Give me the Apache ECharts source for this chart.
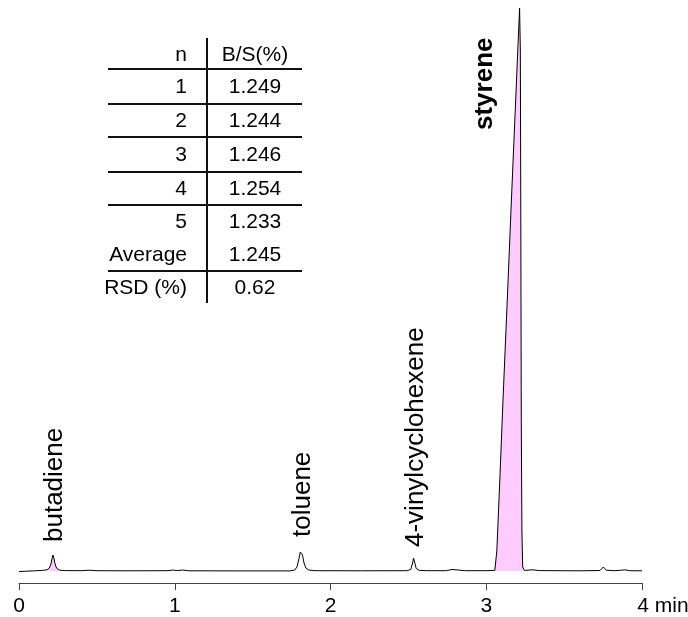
<!DOCTYPE html>
<html><head><meta charset="utf-8">
<script src="https://cdn.jsdelivr.net/npm/echarts@6/dist/echarts.min.js"></script>
<style>html,body{margin:0;padding:0;background:#fff}#c{width:688px;height:617px}</style>
</head><body><div id="c"></div>
<script>
// ---- data ----
const xTickLabels = ['0', '1', '2', '3', '4 min'];
const time = [0.00,0.05,0.10,0.15,0.18,0.195,0.205,0.212,0.218,0.224,0.230,0.238,0.248,0.262,0.30,0.40,0.45,0.50,0.70,0.95,0.99,1.02,1.05,1.09,1.40,1.74,1.77,1.785,1.797,1.806,1.812,1.820,1.830,1.842,1.86,1.90,2.20,2.49,2.515,2.526,2.533,2.540,2.550,2.57,2.62,2.74,2.78,2.82,2.86,3.00,3.055,3.063,3.068,3.087,3.110,3.135,3.160,3.189,3.214,3.219,3.222,3.225,3.229,3.234,3.245,3.30,3.34,3.60,3.73,3.752,3.77,3.82,3.87,3.89,3.92,4.00];
const signal = [-0.5,-0.2,0.2,0.6,1.2,3,7,12,16,13,8,4,1.8,0.8,0.4,0.3,0.8,0.3,0.2,0.3,0.9,0.4,1.0,0.2,0.1,0.1,1,4,12,19,21,16,8,3,1,0.3,0.2,0.3,1.5,7,13,9,2.5,0.6,0.3,0.3,1.5,1.0,0.3,0.3,0.6,2,20,91,180,271,365,471,563,520,350,150,40,4,0.6,1.2,0.4,0.2,0.5,4,0.8,0.3,0.8,1.2,0.3,0.2];
const peakNames = ['butadiene', 'toluene', '4-vinylcyclohexene', 'styrene'];
const peakTimes = [0.218, 1.812, 2.533, 3.214];
const peakHeights = [16, 21, 13, 563];
const filledPeakRanges = [[0.18, 0.262], [3.055, 3.245]];
const tableHeader = ['n', 'B/S(%)'];
const tableN = ['1', '2', '3', '4', '5', 'Average', 'RSD (%)'];
const tableBS = ['1.249', '1.244', '1.246', '1.254', '1.233', '1.245', '0.62'];

// ---- chart ----
const FONT = '"Liberation Sans", Arial, sans-serif';
const chart = echarts.init(document.getElementById('c'), null, {renderer: 'canvas'});
const trace = time.map((t, i) => [t, signal[i]]);
const fillSeries = filledPeakRanges.map(r => ({
  type: 'line', data: trace.filter(p => p[0] >= r[0] && p[0] <= r[1]),
  symbol: 'none', lineStyle: {width: 0}, areaStyle: {color: '#ffccff', opacity: 1},
  z: 1, silent: true
}));

// table graphics
const g = [];
const rowY = [55, 87, 121, 155, 189, 222, 255, 288];
const hLines = [69, 104, 137, 172, 205, 271];
hLines.forEach(y => g.push({type: 'line', shape: {x1: 108, y1: y, x2: 302, y2: y}, style: {stroke: '#111', lineWidth: 2}}));
g.push({type: 'line', shape: {x1: 207, y1: 38, x2: 207, y2: 303}, style: {stroke: '#111', lineWidth: 2}});
const col1 = [tableHeader[0]].concat(tableN);
const col2 = [tableHeader[1]].concat(tableBS);
col1.forEach((s, i) => g.push({type: 'text', x: 187, y: rowY[i], style: {text: s, font: '21px ' + FONT, fill: '#000', align: 'right', verticalAlign: 'middle'}}));
col2.forEach((s, i) => g.push({type: 'text', x: 255, y: rowY[i], style: {text: s, font: '21px ' + FONT, fill: '#000', align: 'center', verticalAlign: 'middle'}}));

chart.setOption({
  animation: false,
  backgroundColor: '#fff',
  grid: {left: 19, right: 46, top: 8, bottom: 34, containLabel: false, outerBoundsMode: 'none'},
  xAxis: {
    type: 'value', min: 0, max: 4, interval: 1,
    axisLine: {onZero: false, lineStyle: {color: '#444', width: 1}},
    axisTick: {length: 7, lineStyle: {color: '#444'}},
    splitLine: {show: false},
    axisLabel: {
      margin: 13, color: '#000', fontSize: 21, fontFamily: FONT,
      formatter: v => v === 4 ? '{m|' + xTickLabels[v] + '}' : xTickLabels[v],
      rich: {m: {fontSize: 21, fontFamily: FONT, color: '#000', padding: [0, 0, 0, 42]}}
    }
  },
  yAxis: {type: 'value', min: -12, max: 563, show: false},
  series: fillSeries.concat([{
    type: 'line', data: trace, symbol: 'none', z: 3,
    lineStyle: {color: '#000', width: 1}
  }]),
  graphic: g
});

// peak labels placed from the data through the chart's scales
const labelOffsets = [[2, -13], [2, -13], [2, -11], [-34.5, 122]];
const labels = peakNames.map((n, i) => {
  const p = chart.convertToPixel({gridIndex: 0}, [peakTimes[i], peakHeights[i]]);
  return {type: 'text', x: p[0] + labelOffsets[i][0], y: p[1] + labelOffsets[i][1], rotation: Math.PI / 2,
    style: {text: n, font: (i === 3 ? 'bold ' : '') + '26px ' + FONT, fill: '#000', align: 'left', verticalAlign: 'middle'}};
});
chart.setOption({graphic: g.concat(labels)});
</script>
</body></html>
